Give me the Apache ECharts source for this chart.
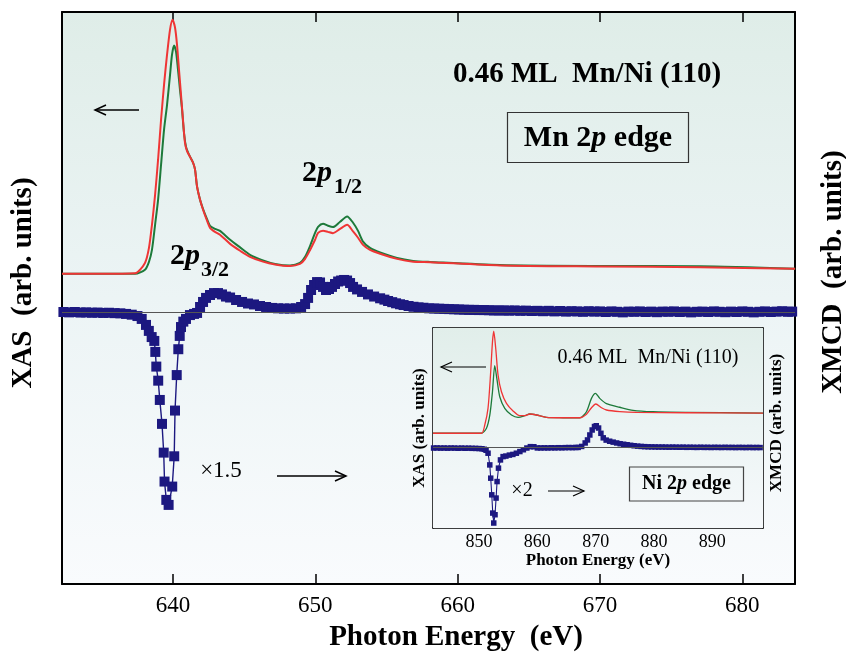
<!DOCTYPE html>
<html>
<head>
<meta charset="utf-8">
<script src="https://cdn.jsdelivr.net/npm/echarts@6/dist/echarts.min.js"></script>
<style>
	html, body { margin: 0; padding: 0; background: #fff; }
	#chart { width: 846px; height: 657px; }
</style>
</head>
<body>
<div id="chart"></div>
<script>
// ---- data: Mn 2p edge (main panel) ----
var mnTicks = [640, 650, 660, 670, 680];

// XAS, normalised so the red L3 peak is 1
var mnXasRed = [
	[632.2, 0], [634.87, 0], [637.33, 0.002], [638.03, 0.043], [638.31, 0.102], [638.52, 0.193],
	[638.74, 0.311], [638.95, 0.449], [639.16, 0.606], [639.37, 0.744], [639.58, 0.862], [639.79, 0.961],
	[639.96, 1.0], [640.14, 0.969], [640.28, 0.902], [640.42, 0.803], [640.56, 0.705], [640.70, 0.606],
	[640.84, 0.516], [640.98, 0.484], [641.19, 0.461], [641.41, 0.437], [641.55, 0.409], [641.69, 0.343],
	[641.90, 0.291], [642.11, 0.252], [642.39, 0.209], [642.60, 0.181], [642.95, 0.165], [643.30, 0.154],
	[644.01, 0.118], [644.71, 0.091], [645.41, 0.067], [646.32, 0.048], [647.17, 0.037], [648.22, 0.031],
	[648.92, 0.039], [649.28, 0.059], [649.63, 0.094], [649.98, 0.134], [650.19, 0.161], [650.54, 0.170],
	[650.89, 0.165], [651.24, 0.160], [651.74, 0.177], [652.23, 0.193], [652.65, 0.167], [653.00, 0.142],
	[653.35, 0.114], [653.84, 0.094], [654.55, 0.079], [655.74, 0.059], [656.87, 0.048], [658.06, 0.046],
	[662.98, 0.033], [670.01, 0.029], [677.04, 0.026], [683.71, 0.020]
];
var mnXasGreen = [
	[632.2, 0], [634.87, 0], [637.33, 0], [638.03, 0.016], [638.31, 0.047], [638.52, 0.094],
	[638.74, 0.193], [638.95, 0.291], [639.16, 0.429], [639.37, 0.567], [639.58, 0.665], [639.79, 0.783],
	[639.93, 0.862], [640.07, 0.898], [640.21, 0.874], [640.35, 0.803], [640.49, 0.724], [640.63, 0.650],
	[640.77, 0.555], [640.91, 0.500], [641.05, 0.478], [641.19, 0.461], [641.41, 0.437], [641.55, 0.409],
	[641.69, 0.343], [641.90, 0.291], [642.11, 0.255], [642.39, 0.215], [642.60, 0.189], [642.95, 0.177],
	[643.30, 0.169], [644.01, 0.134], [644.71, 0.104], [645.41, 0.075], [646.32, 0.053], [647.17, 0.039],
	[648.22, 0.033], [648.92, 0.043], [649.28, 0.067], [649.63, 0.110], [649.98, 0.161], [650.19, 0.185],
	[650.54, 0.197], [650.89, 0.189], [651.24, 0.184], [651.74, 0.205], [652.23, 0.226], [652.65, 0.201],
	[653.00, 0.169], [653.35, 0.127], [653.84, 0.102], [654.55, 0.084], [655.74, 0.062], [656.87, 0.051],
	[658.06, 0.047], [662.98, 0.035], [670.01, 0.031], [677.04, 0.030], [683.71, 0.020]
];
// XMCD (x1.5), normalised so the L3 dip is -1
var mnXmcd = [
	[632.3, 0.0], [632.7, -0.002], [633.1, 0.0], [633.5, -0.003], [633.9, -0.002], [634.3, -0.004],
	[634.7, -0.003], [635.1, -0.005], [635.5, -0.004], [635.9, -0.006], [636.3, -0.007], [636.7, -0.01],
	[637.1, -0.014], [637.5, -0.021], [637.8, -0.036], [638.1, -0.067], [638.3, -0.098], [638.5, -0.130],
	[638.686, -0.150], [638.756, -0.207], [638.826, -0.283], [638.960, -0.356], [639.072, -0.456],
	[639.227, -0.580], [639.346, -0.729], [639.403, -0.879], [639.529, -0.974], [639.691, -1.0],
	[639.944, -0.905], [640.084, -0.748], [640.141, -0.511], [640.260, -0.327], [640.372, -0.193],
	[640.471, -0.124], [640.562, -0.078], [640.724, -0.050],
	[640.91, -0.036], [641.19, -0.016], [641.48, -0.010], [641.69, -0.005], [641.90, 0.026], [642.11, 0.052],
	[642.32, 0.073], [642.60, 0.088], [642.88, 0.098], [643.16, 0.098], [643.44, 0.091], [643.72, 0.080],
	[644.01, 0.075], [644.43, 0.062], [644.85, 0.052], [645.27, 0.044], [645.69, 0.039], [646.11, 0.031],
	[646.54, 0.026], [646.96, 0.021], [647.38, 0.019], [647.80, 0.018], [648.22, 0.018], [648.64, 0.019],
	[649.00, 0.026], [649.28, 0.041], [649.49, 0.073], [649.70, 0.114], [649.91, 0.140], [650.12, 0.155],
	[650.33, 0.153], [650.54, 0.130], [650.75, 0.114], [650.96, 0.119], [651.17, 0.130], [651.38, 0.145],
	[651.60, 0.158], [651.81, 0.163], [652.02, 0.166], [652.23, 0.163], [652.44, 0.150], [652.65, 0.130],
	[652.93, 0.117], [653.28, 0.104], [653.70, 0.091], [654.13, 0.080], [654.55, 0.071], [654.85, 0.064],
	[655.11, 0.057], [655.40, 0.051], [655.67, 0.045], [655.95, 0.040], [656.2, 0.036], [656.55, 0.031],
	[656.9, 0.027], [657.25, 0.024], [657.6, 0.022], [658.0, 0.019], [658.35, 0.018], [658.7, 0.017],
	[659.05, 0.016], [659.4, 0.015], [659.75, 0.014], [660.1, 0.013], [660.45, 0.012], [660.8, 0.011],
	[661.15, 0.011], [661.5, 0.010], [661.85, 0.010], [662.2, 0.009], [662.55, 0.008], [662.9, 0.008],
	[663.25, 0.008], [663.6, 0.007], [664.0, 0.008], [664.4, 0.006], [664.8, 0.007], [665.2, 0.005],
	[665.6, 0.006], [666.0, 0.004], [666.4, 0.006], [666.8, 0.003], [667.2, 0.005], [667.6, 0.002],
	[668.0, 0.004], [668.4, 0.003], [668.8, 0.001], [669.2, 0.004], [669.6, 0.002], [670.0, 0.003],
	[670.4, 0.0], [670.8, 0.003], [671.2, 0.001], [671.6, -0.002], [672.0, 0.002], [672.4, 0.001],
	[672.8, 0.003], [673.2, 0.0], [673.6, 0.002], [674.0, -0.001], [674.4, 0.002], [674.8, 0.001],
	[675.2, 0.003], [675.6, 0.0], [676.0, 0.002], [676.4, -0.002], [676.8, 0.001], [677.2, 0.002],
	[677.6, 0.0], [678.0, 0.003], [678.4, 0.001], [678.8, -0.001], [679.2, 0.002], [679.6, 0.0],
	[680.0, 0.003], [680.4, 0.001], [680.8, -0.002], [681.2, 0.001], [681.6, 0.003], [682.0, 0.0],
	[682.4, 0.002], [682.8, 0.004], [683.2, 0.001], [683.5, 0.002]
];

// ---- data: Ni 2p edge (inset) ----
var niTicks = [850, 860, 870, 880, 890];

var niXasRed = [
	[842.1, 0], [846.0, 0], [850.41, 0], [850.98, 0.081], [851.54, 0.247], [851.96, 0.570],
	[852.30, 0.896], [852.52, 1.0], [852.86, 0.831], [853.26, 0.570], [853.84, 0.407], [854.70, 0.293],
	[855.83, 0.218], [856.98, 0.172], [857.84, 0.172], [858.70, 0.189], [859.85, 0.179], [861.56, 0.156],
	[864.41, 0.152], [867.27, 0.152], [868.42, 0.186], [869.28, 0.250], [870.02, 0.287], [871.0, 0.250],
	[871.85, 0.228], [874.13, 0.213], [877.0, 0.205], [885.57, 0.201], [898.7, 0.198]
];
var niXasGreen = [
	[842.1, 0], [846.0, 0], [850.41, 0], [851.27, 0.049], [851.84, 0.178], [852.30, 0.407],
	[852.69, 0.664], [853.09, 0.520], [853.55, 0.358], [854.41, 0.244], [855.56, 0.179], [856.69, 0.156],
	[857.84, 0.172], [858.70, 0.189], [859.85, 0.179], [861.56, 0.156], [864.41, 0.152], [867.27, 0.150],
	[868.42, 0.211], [869.28, 0.342], [869.97, 0.391], [870.70, 0.342], [871.85, 0.290], [874.13, 0.255],
	[876.41, 0.225], [879.85, 0.211], [885.57, 0.205], [898.7, 0.198]
];
// XMCD (x2)
var niXmcd = [
	[842.2, -0.005], [842.8, -0.004], [843.4, -0.006], [844.0, -0.005], [844.6, -0.007], [845.2, -0.005],
	[845.8, -0.006], [846.4, -0.008], [847.0, -0.006], [847.6, -0.008], [848.2, -0.007], [848.8, -0.009],
	[849.4, -0.010], [850.0, -0.012], [850.5, -0.015], [850.9, -0.022], [851.2, -0.035], [851.54, -0.074],
	[851.84, -0.229], [852.0, -0.405], [852.18, -0.626], [852.35, -0.868], [852.52, -1.0], [852.74, -0.890],
	[852.92, -0.669], [853.09, -0.450], [853.33, -0.272], [853.67, -0.163], [854.12, -0.119],
	[854.6, -0.112], [855.2, -0.099], [855.8, -0.090], [856.4, -0.074], [857.0, -0.052], [857.6, -0.028],
	[858.2, -0.005], [858.8, 0.013], [859.4, 0.012], [860.0, -0.004], [860.6, -0.004], [861.2, -0.003],
	[861.8, -0.004], [862.4, -0.002], [863.0, -0.003], [863.6, -0.001], [864.2, -0.002], [864.8, 0.0],
	[865.4, 0.001], [866.0, 0.0], [866.6, 0.002], [867.0, 0.003], [867.6, 0.016], [868.2, 0.062],
	[868.6, 0.102], [869.0, 0.168], [869.4, 0.234], [869.8, 0.280], [870.1, 0.290], [870.5, 0.260],
	[870.9, 0.190], [871.3, 0.130], [871.8, 0.100], [872.4, 0.085], [873.0, 0.073], [873.6, 0.062],
	[874.2, 0.052], [874.8, 0.045], [875.4, 0.038], [876.0, 0.031], [876.6, 0.025], [877.2, 0.020],
	[877.8, 0.016], [878.4, 0.013], [879.0, 0.011], [879.6, 0.010], [880.2, 0.009], [880.8, 0.008],
	[881.4, 0.008], [882.0, 0.007], [882.6, 0.006], [883.2, 0.007], [883.8, 0.006], [884.4, 0.005],
	[885.0, 0.006], [885.6, 0.004], [886.2, 0.005], [886.8, 0.004], [887.4, 0.003], [888.0, 0.005],
	[888.6, 0.003], [889.2, 0.004], [889.8, 0.002], [890.4, 0.004], [891.0, 0.003], [891.6, 0.002],
	[892.2, 0.004], [892.8, 0.002], [893.4, 0.003], [894.0, 0.001], [894.6, 0.003], [895.2, 0.002],
	[895.8, 0.001], [896.4, 0.003], [897.0, 0.001], [897.6, 0.002], [898.2, 0.001]
];

var SERIF = '"Liberation Serif", "DejaVu Serif", serif';
var RED = '#ef3535';
var GREEN = '#1d7a3a';
var NAVY = '#1c1880';

function vGradient(top, mid, bottom) {
	return {
		type: 'linear', x: 0, y: 0, x2: 0, y2: 1,
		colorStops: [
			{ offset: 0, color: top },
			{ offset: 0.5, color: mid },
			{ offset: 1, color: bottom }
		]
	};
}

// x axis of a panel: bottom carries labels, top only the inner ticks
function energyAxis(grid, pos, min, max, ticks, big) {
	var ax = {
		gridIndex: grid,
		type: 'value',
		position: pos,
		min: min,
		max: max,
		axisLine: { show: true, onZero: false, lineStyle: { color: '#000', width: big ? 2 : 1.5 } },
		axisTick: { show: true, inside: true, length: big ? 10 : 6, customValues: ticks, lineStyle: { color: '#000', width: big ? 1.5 : 1 } },
		axisLabel: { show: false },
		splitLine: { show: false }
	};
	if (pos === 'bottom') {
		ax.axisLabel = {
			show: true, customValues: ticks, color: '#000',
			fontFamily: SERIF, fontSize: big ? 23 : 18, margin: big ? 10 : 5
		};
		ax.name = big ? 'Photon Energy  (eV)' : 'Photon Energy (eV)';
		ax.nameLocation = 'middle';
		ax.nameGap = big ? 39 : 23;
		ax.nameTextStyle = {
			color: '#000', fontFamily: SERIF, fontWeight: 'bold', fontSize: big ? 29 : 17,
			padding: big ? [0, 0, 0, 55] : 0
		};
	}
	return ax;
}

function signalAxis(grid, pos, min, max, name, big, shift) {
	return {
		gridIndex: grid,
		type: 'value',
		position: pos,
		min: min,
		max: max,
		axisLine: { show: true, onZero: false, lineStyle: { color: '#000', width: big ? 2 : 1.5 } },
		axisTick: { show: false },
		axisLabel: { show: false },
		splitLine: { show: false },
		name: name,
		nameLocation: 'middle',
		nameRotate: 90,
		nameGap: big ? 24 : 5,
		nameTextStyle: {
			color: '#000', fontFamily: SERIF, fontWeight: 'bold', fontSize: big ? 29 : 17,
			padding: [0, 0, 0, shift]
		}
	};
}

function curve(data, xi, yi, color, width, z) {
	return {
		type: 'line', xAxisIndex: xi, yAxisIndex: yi, data: data,
		showSymbol: false, smooth: 0.25, z: z,
		lineStyle: { color: color, width: width },
		emphasis: { disabled: true }
	};
}

function dichroism(data, xi, yi, size, width) {
	return {
		type: 'line', xAxisIndex: xi, yAxisIndex: yi, data: data,
		symbol: 'rect', symbolSize: size, z: 4,
		itemStyle: { color: NAVY },
		lineStyle: { color: NAVY, width: width },
		emphasis: { disabled: true },
		markLine: {
			silent: true, symbol: ['none', 'none'], label: { show: false },
			lineStyle: { color: '#555', width: 1, type: 'solid' },
			data: [{ yAxis: 0 }]
		}
	};
}

// plain barbed arrow, head at (hx, y)
function arrow(x1, x2, y, headLeft, w) {
	var hx = headLeft ? x1 : x2;
	var d = headLeft ? 1 : -1;
	var style = { stroke: '#000', lineWidth: w, fill: null };
	return [
		{ type: 'polyline', z: 50, shape: { points: [[x1, y], [x2, y]] }, style: style },
		{ type: 'polyline', z: 50, shape: { points: [[hx + d * 11, y - 5], [hx, y], [hx + d * 11, y + 5]] }, style: style }
	];
}

function label(x, y, text, font, align, rich) {
	var style = {
		text: text, font: font, fill: '#000',
		align: align || 'center', verticalAlign: 'middle',
		textAlign: align || 'center', textVerticalAlign: 'middle'
	};
	if (rich) style.rich = rich;
	return { type: 'text', x: x, y: y, z: 60, style: style };
}

function richStyle(size) {
	return {
		b: { fontFamily: SERIF, fontWeight: 'bold', fontSize: size, fill: '#000' },
		i: { fontFamily: SERIF, fontWeight: 'bold', fontStyle: 'italic', fontSize: size, fill: '#000' }
	};
}

var graphics = [].concat(
	label(587, 75, '0.46 ML  Mn/Ni (110)', 'bold 29px ' + SERIF),
	{ type: 'rect', z: 50, shape: { x: 507.5, y: 112.5, width: 181, height: 50 }, style: { fill: null, stroke: '#333', lineWidth: 1.2 } },
	label(598, 138, '{b|Mn 2}{i|p}{b| edge}', 'bold 30px ' + SERIF, 'center', richStyle(30)),
	label(302, 173, '{b|2}{i|p}', 'bold 30px ' + SERIF, 'left', richStyle(30)),
	label(334, 187, '1/2', 'bold 22px ' + SERIF, 'left'),
	label(170, 256, '{b|2}{i|p}', 'bold 30px ' + SERIF, 'left', richStyle(30)),
	label(201, 270, '3/2', 'bold 22px ' + SERIF, 'left'),
	arrow(95, 139, 110, true, 1.5),
	label(221, 471, '\u00d71.5', '23px ' + SERIF),
	arrow(277, 346, 476, false, 1.5),
	label(648, 358, '0.46 ML  Mn/Ni (110)', '20px ' + SERIF),
	arrow(441, 486, 367, true, 1.2),
	label(522, 491, '\u00d72', '20px ' + SERIF),
	arrow(548, 584, 491, false, 1.2),
	{ type: 'rect', z: 50, shape: { x: 629.5, y: 467, width: 114, height: 34 }, style: { fill: null, stroke: '#444', lineWidth: 1.2 } },
	label(686.5, 484, '{b|Ni 2}{i|p}{b| edge}', 'bold 20px ' + SERIF, 'center', richStyle(20))
);

var chart = echarts.init(document.getElementById('chart'));

chart.setOption({
	animation: false,
	backgroundColor: '#fff',
	textStyle: { fontFamily: SERIF },
	grid: [
		{ left: 62, top: 12, width: 733, height: 572, show: true, borderWidth: 0,
			outerBoundsMode: 'none', containLabel: false,
			backgroundColor: vGradient('#dfede8', '#ecf4f5', '#f9fbfd') },
		{ left: 433, top: 328, width: 330, height: 200, show: true, borderWidth: 0, z: 1,
			outerBoundsMode: 'none', containLabel: false,
			backgroundColor: vGradient('#e1eeea', '#ecf4f4', '#f6f9fb') }
	],
	xAxis: [
		energyAxis(0, 'bottom', 632.2, 683.7, mnTicks, true),
		energyAxis(0, 'top', 632.2, 683.7, mnTicks, true),
		energyAxis(1, 'bottom', 842.1, 898.7, niTicks, false),
		energyAxis(1, 'top', 842.1, 898.7, niTicks, false)
	],
	yAxis: [
		signalAxis(0, 'left', -1.22, 1.03, 'XAS  (arb. units)', true, 30),
		signalAxis(0, 'right', -1.41, 1.555, 'XMCD  (arb. units)', true, 52),
		signalAxis(1, 'left', -0.929, 1.032, 'XAS (arb. units)', false, 0),
		signalAxis(1, 'right', -1.066, 1.587, 'XMCD (arb. units)', false, 10)
	],
	series: [
		curve(mnXasGreen, 0, 0, GREEN, 2, 2),
		curve(mnXasRed, 0, 0, RED, 2, 3),
		dichroism(mnXmcd, 0, 1, 10, 1.4),
		curve(niXasGreen, 2, 2, GREEN, 1.3, 5),
		curve(niXasRed, 2, 2, RED, 1.3, 6),
		dichroism(niXmcd, 2, 3, 5.5, 1.1)
	],
	graphic: { elements: graphics }
});
</script>
</body>
</html>
